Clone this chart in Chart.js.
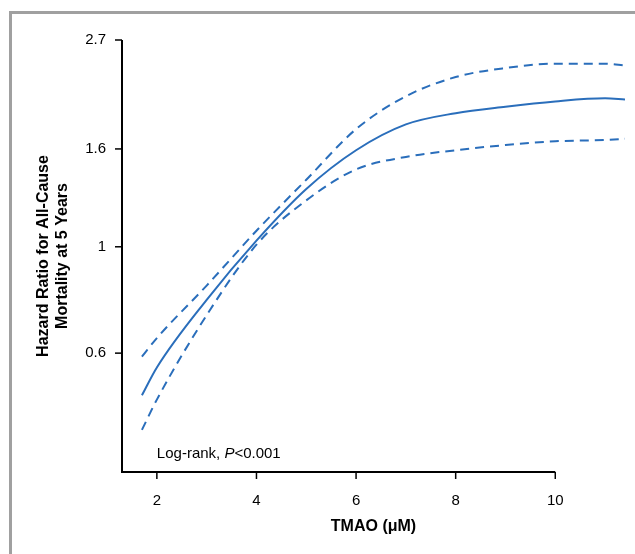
<!DOCTYPE html>
<html><head><meta charset="utf-8">
<script src="https://cdn.jsdelivr.net/npm/chart.js@4"></script>
<style>
html,body{margin:0;padding:0;background:#fff;}
#wrap{position:relative;width:635px;height:554px;}
#frame{position:absolute;left:9px;top:11px;width:640px;height:560px;border-top:3px solid #a0a0a0;border-left:3px solid #a0a0a0;pointer-events:none;}
canvas{position:absolute;left:0;top:0;}
</style></head><body>
<div id="wrap"><div id="frame"></div><canvas id="c" width="635" height="554"></canvas></div>
<script>
const xValues=[1.7,2,3,4,5,6,7,8,9,10,11,11.4];
const hrEstimate=[0.49,0.56,0.775,1.03,1.32,1.59,1.80,1.90,1.96,2.01,2.04,2.03];
const hrUpper=[0.59,0.645,0.83,1.08,1.38,1.76,2.06,2.26,2.36,2.41,2.41,2.39];
const hrLower=[0.415,0.48,0.72,1.01,1.25,1.45,1.54,1.59,1.63,1.66,1.67,1.68];
const xTicks=[2,4,6,8,10];
const yTicks=[0.6,1,1.6,2.7];
const blue='#2a6ebb';
const mk=(d,dash)=>({data:xValues.map((x,i)=>({x,y:d[i]})),borderColor:blue,borderWidth:2,borderDash:dash,pointRadius:0,cubicInterpolationMode:'monotone',fill:false});
const axisPlugin={id:'axes',afterDraw(ch){
  const c=ch.ctx,xs=ch.scales.x,ys=ch.scales.y;
  const x0=xs.getPixelForValue(1.3),x1=xs.getPixelForValue(10),yb=ys.bottom,yt=ys.getPixelForValue(2.7);
  c.save();c.strokeStyle='#000';c.lineWidth=2;
  c.beginPath();c.moveTo(x0,yt);c.lineTo(x0,yb);c.lineTo(x1,yb);c.stroke();
  c.lineWidth=1.5;
  xTicks.forEach(v=>{const p=xs.getPixelForValue(v);c.beginPath();c.moveTo(p,yb);c.lineTo(p,yb+7);c.stroke();});
  yTicks.forEach(v=>{const p=ys.getPixelForValue(v);c.beginPath();c.moveTo(x0,p);c.lineTo(x0-7,p);c.stroke();});
  c.fillStyle='#000';c.textBaseline='alphabetic';
  c.font='15px "Liberation Sans", Arial';
  let tx=xs.getPixelForValue(2),ty=ys.bottom-14;
  const s1='Log-rank, ';c.fillText(s1,tx,ty);tx+=c.measureText(s1).width;
  c.font='italic 15px "Liberation Sans", Arial';c.fillText('P',tx,ty);tx+=c.measureText('P').width;
  c.font='15px "Liberation Sans", Arial';c.fillText('<0.001',tx,ty);
  c.restore();
}};
new Chart(document.getElementById('c'),{
  type:'line',
  data:{datasets:[mk(hrUpper,[9,6]),mk(hrEstimate,[]),mk(hrLower,[9,6])]},
  options:{responsive:false,animation:false,
    layout:{padding:{top:40,right:10,left:30,bottom:14}},
    plugins:{legend:{display:false},tooltip:{enabled:false}},
    scales:{
      x:{type:'linear',min:1.3,max:11.4,bounds:'data',
        afterBuildTicks:s=>{s.ticks=xTicks.map(v=>({value:v}));},
        afterFit:s=>{s.height=68;},
        grid:{display:false,drawTicks:false},border:{display:false},
        ticks:{color:'#000',font:{size:15,family:'"Liberation Sans", Arial'},padding:20,maxRotation:0},
        title:{display:true,text:'TMAO (μM)',color:'#000',font:{size:16,weight:'bold',family:'"Liberation Sans", Arial'},padding:{top:4}}},
      y:{type:'logarithmic',min:0.339,max:2.7,bounds:'data',
        afterBuildTicks:s=>{s.ticks=yTicks.map(v=>({value:v}));},
        afterFit:s=>{s.width=92;},
        grid:{display:false,drawTicks:false},border:{display:false},
        ticks:{color:'#000',font:{size:15,family:'"Liberation Sans", Arial'},padding:16,callback:v=>String(v)},
        title:{display:true,text:['Hazard Ratio for All-Cause','Mortality at 5 Years'],color:'#000',font:{size:16,weight:'bold',family:'"Liberation Sans", Arial'},padding:{bottom:0}}}
    }},
  plugins:[axisPlugin]
});
</script></body></html>
